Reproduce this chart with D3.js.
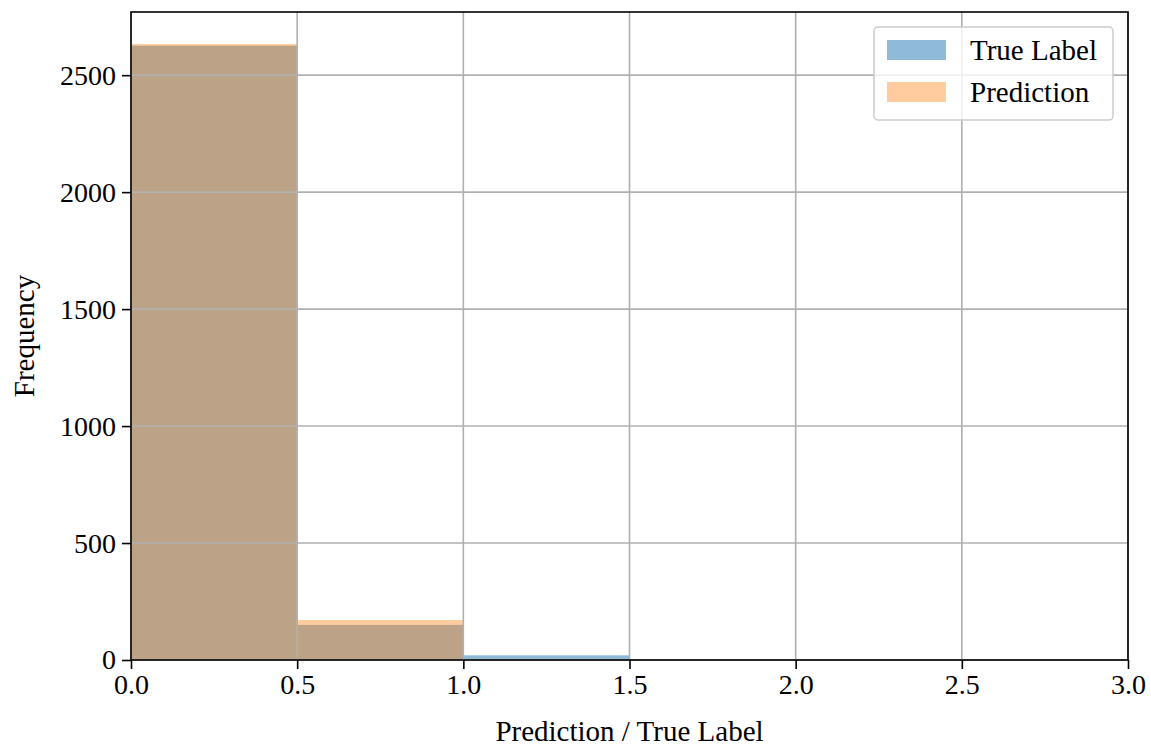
<!DOCTYPE html>
<meta charset="utf-8">
<style>
  body { margin: 0; background: #fff; }
  text { font-family: "Liberation Serif", "Times New Roman", serif; }
</style>
<script src="https://d3js.org/d3.v7.min.js"></script>
<body>
<div id="chart"></div>
<script>

var binEdges = [0, 0.5, 1.0, 1.5, 2.0, 2.5, 3.0];
var trueLabel = [2626, 150, 20, 2, 0, 0];
var prediction = [2633, 171, 0, 0, 0, 0];
var xTicks = [0, 0.5, 1.0, 1.5, 2.0, 2.5, 3.0];
var yTicks = [0, 500, 1000, 1500, 2000, 2500];
var seriesNames = ["True Label", "Prediction"];

var width = 1151,
    height = 746,
    margin = {top: 12, right: 23, bottom: 86, left: 131};

var svg = d3.select("#chart")
  .append("svg")
    .attr("width", width)
    .attr("height", height);

var x = d3.scaleLinear().domain([0, 3]).range([margin.left, width - margin.right]);
var y = d3.scaleLinear().domain([0, 2770]).range([height - margin.bottom, margin.top]);

function bins(values) {
  return values.map(function(v, i) { return {x0: binEdges[i], x1: binEdges[i + 1], v: v}; });
}

// bars
svg.append("g").selectAll("rect")
  .data(bins(trueLabel).filter(function(d) { return d.v > 0; }))
  .enter().append("rect")
    .attr("x", function(d) { return x(d.x0); })
    .attr("width", function(d) { return x(d.x1) - x(d.x0); })
    .attr("y", function(d) { return y(d.v); })
    .attr("height", function(d) { return y(0) - y(d.v); })
    .attr("fill", "#1f77b4")
    .attr("fill-opacity", 0.5);

svg.append("g").selectAll("rect")
  .data(bins(prediction).filter(function(d) { return d.v > 0; }))
  .enter().append("rect")
    .attr("x", function(d) { return x(d.x0); })
    .attr("width", function(d) { return x(d.x1) - x(d.x0); })
    .attr("y", function(d) { return y(d.v); })
    .attr("height", function(d) { return y(0) - y(d.v); })
    .attr("fill", "#ff7f0e")
    .attr("fill-opacity", 0.4);

// grid
var grid = svg.append("g").attr("stroke", "#b0b0b0").attr("stroke-width", 1.6);
grid.selectAll(".gx").data(xTicks).enter().append("line")
  .attr("x1", function(d) { return x(d); }).attr("x2", function(d) { return x(d); })
  .attr("y1", margin.top).attr("y2", height - margin.bottom);
grid.selectAll(".gy").data(yTicks).enter().append("line")
  .attr("y1", function(d) { return y(d); }).attr("y2", function(d) { return y(d); })
  .attr("x1", margin.left).attr("x2", width - margin.right);

// axes
var xAxis = svg.append("g")
  .attr("transform", "translate(0," + (height - margin.bottom) + ")")
  .call(d3.axisBottom(x).tickValues(xTicks).tickFormat(d3.format(".1f")).tickSize(9).tickPadding(5));

var yAxis = svg.append("g")
  .attr("transform", "translate(" + margin.left + ",0)")
  .call(d3.axisLeft(y).tickValues(yTicks).tickFormat(d3.format("d")).tickSize(9).tickPadding(6));

[xAxis, yAxis].forEach(function(a) {
  a.attr("font-family", "'Liberation Serif', serif").attr("font-size", 28);
  a.select(".domain").remove();
  a.selectAll(".tick line").attr("stroke", "#000").attr("stroke-width", 1.6);
  a.selectAll(".tick text").attr("fill", "#000");
});

// frame
svg.append("rect")
  .attr("x", margin.left).attr("y", margin.top)
  .attr("width", width - margin.left - margin.right)
  .attr("height", height - margin.top - margin.bottom)
  .attr("fill", "none").attr("stroke", "#000").attr("stroke-width", 1.6);

// labels
svg.append("text")
  .attr("x", (margin.left + width - margin.right) / 2)
  .attr("y", height - 5)
  .attr("text-anchor", "middle")
  .attr("font-size", 29)
  .text("Prediction / True Label");

svg.append("text")
  .attr("transform", "translate(34," + ((margin.top + height - margin.bottom) / 2) + ") rotate(-90)")
  .attr("text-anchor", "middle")
  .attr("font-size", 29)
  .text("Frequency");

// legend
var legend = svg.append("g").attr("transform", "translate(874,27)");
legend.append("rect")
  .attr("width", 239).attr("height", 93).attr("rx", 4)
  .attr("fill", "#fff").attr("fill-opacity", 0.8)
  .attr("stroke", "#cccccc").attr("stroke-width", 1.5);

var item = legend.selectAll(".item").data(seriesNames).enter().append("g")
  .attr("transform", function(d, i) { return "translate(13," + (13 + i * 42) + ")"; });
item.append("rect")
  .attr("width", 59).attr("height", 20)
  .attr("fill", function(d, i) { return i === 0 ? "#1f77b4" : "#ff7f0e"; })
  .attr("fill-opacity", function(d, i) { return i === 0 ? 0.5 : 0.4; });
item.append("text")
  .attr("x", 83).attr("y", 20)
  .attr("font-size", 29)
  .text(function(d) { return d; });

</script>
</body>
